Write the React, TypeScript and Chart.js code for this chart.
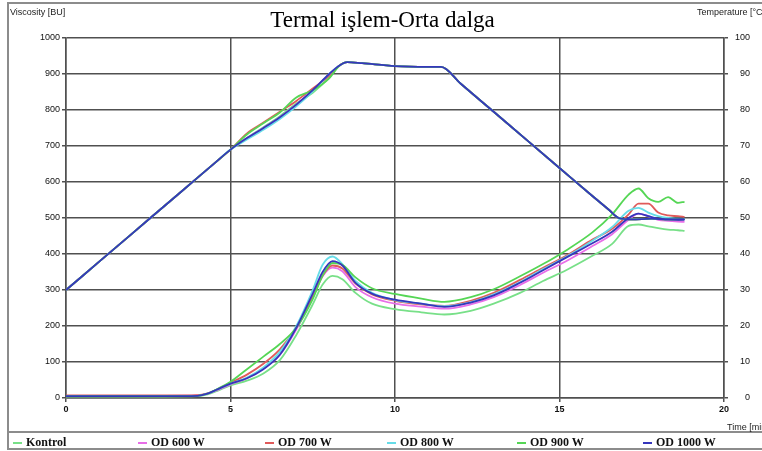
import React, { useEffect, useRef } from "react";
import { Chart, registerables } from "chart.js";

Chart.register(...registerables);

// ---- Data ----
const titleText = "Termal işlem-Orta dalga";
const seriesNames = ["Kontrol", "OD 600 W", "OD 700 W", "OD 800 W", "OD 900 W", "OD 1000 W"];
const seriesColors = ["#78e088", "#e86ee8", "#e05a5a", "#66dce8", "#55d655", "#3636bc"];

const xTicks = [0, 5, 10, 15, 20];

// Viscosity (BU) sampled at these times (min)
const viscosityTimes = [0, 1, 2, 3, 4, 4.3, 4.6, 5, 5.5, 6, 6.5, 7, 7.5, 7.8, 8.1, 8.4, 8.8, 9.3, 10, 10.8, 11.5, 12.3, 13, 13.8, 14.5, 15.2, 16, 16.6, 17.1, 17.4, 17.7, 18, 18.3, 18.6, 18.8];
const kontrolViscosity = [4, 4, 4, 4, 5, 10, 20, 35, 48, 68, 105, 175, 260, 315, 339, 330, 292, 262, 247, 238, 232, 242, 262, 292, 325, 355, 395, 428, 478, 482, 477, 472, 468, 466, 464];
const od600Viscosity = [6, 6, 6, 6, 7, 12, 22, 38, 55, 82, 120, 190, 280, 338, 362, 352, 308, 280, 262, 254, 248, 260, 280, 314, 348, 380, 422, 455, 495, 512, 505, 495, 492, 490, 489];
const od700Viscosity = [7, 7, 7, 7, 8, 13, 24, 42, 65, 95, 135, 195, 280, 340, 368, 360, 318, 288, 270, 260, 256, 270, 292, 328, 362, 395, 440, 470, 510, 540, 540, 515, 507, 505, 503];
const od800Viscosity = [5, 5, 5, 5, 6, 12, 24, 40, 57, 85, 128, 200, 300, 370, 393, 372, 325, 292, 272, 262, 255, 266, 288, 322, 358, 392, 437, 475, 520, 528, 515, 505, 500, 498, 497];
const od900Viscosity = [5, 5, 5, 5, 6, 12, 25, 45, 80, 115, 150, 195, 275, 340, 375, 370, 335, 305, 289, 276, 267, 280, 302, 338, 372, 410, 460, 510, 565, 582, 555, 545, 558, 542, 545];
const od1000Viscosity = [5, 5, 5, 5, 6, 12, 24, 40, 55, 80, 120, 195, 290, 350, 380, 368, 320, 290, 273, 262, 253, 265, 285, 320, 355, 390, 430, 462, 500, 512, 505, 498, 496, 495, 495];

// Temperature (°C) sampled at these times (min)
const temperatureTimes = [0, 1, 2, 3, 4, 4.5, 5, 5.5, 6, 6.5, 7, 7.5, 8, 8.3, 8.55, 9, 10, 11, 11.4, 12, 13, 14, 15, 16, 16.5, 16.8, 17.2, 17.8, 18.3, 18.8];
const kontrolTemperature = [30, 37.8, 45.6, 53.4, 61.2, 65.1, 69, 72.2, 75.2, 78.3, 81.8, 84.8, 89, 92.2, 93.3, 93, 92.2, 92, 92, 87.3, 79.5, 71.7, 63.9, 56.1, 52.3, 50, 49.6, 49.8, 49.6, 49.7];
const od600Temperature = [30, 37.8, 45.6, 53.4, 61.2, 65.1, 69, 72.2, 75, 78, 81.5, 85.5, 90, 92.3, 93.3, 93, 92.2, 92, 92, 87.3, 79.5, 71.7, 63.9, 56.1, 52.3, 50, 49.6, 49.8, 49.6, 49.7];
const od700Temperature = [30, 37.8, 45.6, 53.4, 61.2, 65.1, 69, 73.5, 76.5, 79.5, 82.5, 86, 89.5, 92.3, 93.3, 93, 92.2, 92, 92, 87.3, 79.5, 71.7, 63.9, 56.1, 52.3, 50, 49.6, 49.8, 49.6, 49.7];
const od800Temperature = [30, 37.8, 45.6, 53.4, 61.2, 65.1, 69, 71.8, 74.5, 77.5, 81, 85.2, 90, 92.3, 93.3, 93, 92.2, 92, 92, 87.3, 79.5, 71.7, 63.9, 56.1, 52.3, 50, 49.6, 49.8, 49.6, 49.7];
const od900Temperature = [30, 37.8, 45.6, 53.4, 61.2, 65.1, 69, 73.2, 76.3, 79.3, 83.5, 85.5, 88.8, 92.2, 93.3, 93, 92.2, 92, 92, 87.3, 79.5, 71.7, 63.9, 56.1, 52.3, 50, 49.6, 49.8, 49.6, 49.7];
const od1000Temperature = [30, 37.8, 45.6, 53.4, 61.2, 65.1, 69, 72.2, 75, 78, 81.5, 85.5, 90, 92.3, 93.3, 93, 92.2, 92, 92, 87.3, 79.5, 71.7, 63.9, 56.1, 52.3, 50, 49.6, 49.8, 49.6, 49.7];

const viscositySeries = [kontrolViscosity, od600Viscosity, od700Viscosity, od800Viscosity, od900Viscosity, od1000Viscosity];
const temperatureSeries = [kontrolTemperature, od600Temperature, od700Temperature, od800Temperature, od900Temperature, od1000Temperature];

const GRID = "#505050";
const TICK_FONT = { family: "'Liberation Sans', Arial, sans-serif", size: 9 };

export default function App() {
  const canvasRef = useRef<HTMLCanvasElement | null>(null);

  useEffect(() => {
    if (!canvasRef.current) return;
    const datasets: any[] = [];
    seriesNames.forEach((name, i) => {
      datasets.push({
        label: name + " (°C)",
        data: temperatureTimes.map((t, k) => ({ x: t, y: temperatureSeries[i][k] })),
        yAxisID: "y2",
        borderColor: seriesColors[i],
        borderWidth: 1.8,
        pointRadius: 0,
        fill: false,
        cubicInterpolationMode: "monotone",
        order: 5 - i,
      });
      datasets.push({
        label: name,
        data: viscosityTimes.map((t, k) => ({ x: t, y: viscositySeries[i][k] })),
        yAxisID: "y",
        borderColor: seriesColors[i],
        borderWidth: 1.8,
        pointRadius: 0,
        fill: false,
        cubicInterpolationMode: "monotone",
        order: 5 - i,
      });
    });

    const chart = new Chart(canvasRef.current, {
      type: "line",
      data: { datasets },
      options: {
        responsive: false,
        animation: false,
        devicePixelRatio: 1,
        layout: { padding: { left: 8, right: 12, top: 38, bottom: 33 } },
        plugins: {
          legend: { display: false },
          tooltip: { enabled: false },
          title: { display: false },
        },
        scales: {
          x: {
            type: "linear",
            min: 0,
            max: 20,
            afterBuildTicks: (s: any) => {
              s.ticks = xTicks.map((v) => ({ value: v }));
            },
            afterFit: (s: any) => {
              s.height = 20;
            },
            ticks: {
              color: "#111",
              font: { ...TICK_FONT, weight: "bold" },
              padding: 2,
              maxRotation: 0,
              callback: (v: any) => String(v),
            },
            grid: { color: GRID, lineWidth: 1.5, tickLength: 4 },
            border: { color: GRID, width: 1.5 },
          },
          y: {
            type: "linear",
            position: "left",
            min: 0,
            max: 1000,
            afterFit: (s: any) => {
              s.width = 58;
            },
            ticks: { stepSize: 100, color: "#111", font: TICK_FONT, padding: 2, callback: (v: any) => String(v) },
            grid: { color: GRID, lineWidth: 1.5, tickLength: 4 },
            border: { color: GRID, width: 1.5 },
          },
          y2: {
            type: "linear",
            position: "right",
            min: 0,
            max: 100,
            afterFit: (s: any) => {
              s.width = 26;
            },
            ticks: { stepSize: 10, color: "#111", font: TICK_FONT, padding: 8, crossAlign: "far", callback: (v: any) => String(v) },
            grid: { drawOnChartArea: false, color: GRID, lineWidth: 1.5, tickLength: 4 },
            border: { color: GRID, width: 1.5 },
          },
        },
      } as any,
    });
    return () => chart.destroy();
  }, []);

  const legendLefts = [13, 138, 265, 387, 517, 643];
  const smallText: React.CSSProperties = {
    position: "absolute",
    fontFamily: "'Liberation Sans', Arial, sans-serif",
    fontSize: 9,
    color: "#222",
    whiteSpace: "nowrap",
    lineHeight: "10px",
  };

  return (
    <div
      style={{
        position: "absolute",
        left: 0,
        top: 0,
        width: 762,
        height: 451,
        overflow: "hidden",
        background: "#fff",
      }}
    >
      <div
        style={{
          position: "absolute",
          left: 7,
          top: 2,
          width: 800,
          height: 448,
          boxSizing: "border-box",
          border: "2px solid #8c8c8c",
        }}
      />
      <div style={{ position: "absolute", left: 7, top: 431, width: 800, height: 2, background: "#8c8c8c" }} />
      <canvas ref={canvasRef} width={762} height={451} style={{ position: "absolute", left: 0, top: 0, width: 762, height: 451 }} />
      <div
        style={{
          position: "absolute",
          left: 0,
          top: 6,
          width: 765,
          textAlign: "center",
          fontFamily: "'Liberation Serif', 'Times New Roman', serif",
          fontSize: 23,
          lineHeight: "28px",
          color: "#000",
          whiteSpace: "nowrap",
        }}
      >
        {titleText}
      </div>
      <div style={{ ...smallText, left: 10, top: 7 }}>Viscosity [BU]</div>
      <div style={{ ...smallText, left: 697, top: 7 }}>Temperature [°C]</div>
      <div style={{ ...smallText, left: 727, top: 422 }}>Time [min]</div>
      {seriesNames.map((name, i) => (
        <div
          key={name}
          style={{
            position: "absolute",
            left: legendLefts[i],
            top: 435,
            height: 15,
            display: "flex",
            alignItems: "center",
            whiteSpace: "nowrap",
          }}
        >
          <span style={{ display: "inline-block", width: 9, height: 2, background: seriesColors[i], marginRight: 4 }} />
          <span
            style={{
              fontFamily: "'Liberation Serif', 'Times New Roman', serif",
              fontWeight: "bold",
              fontSize: 12,
              color: "#111",
            }}
          >
            {name}
          </span>
        </div>
      ))}
    </div>
  );
}
